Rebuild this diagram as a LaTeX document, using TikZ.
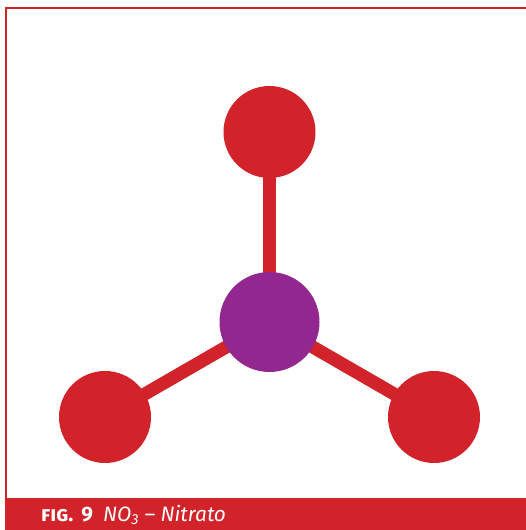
\documentclass[tikz,border=0pt]{standalone}
\usepackage{fontspec}
\setmainfont{Fira Sans}
\usetikzlibrary{backgrounds}
\definecolor{oxred}{RGB}{210,35,42}
\definecolor{nitropurple}{RGB}{146,39,143}
\tikzset{
  atom/.style={circle,fill=oxred,minimum size=92pt,inner sep=0pt},
  bond/.style={draw=oxred,line width=13pt},
}

\begin{document}
\begin{tikzpicture}[x=1pt,y=1pt]
  \useasboundingbox (0,0) rectangle (526,530);
  \draw[oxred,line width=2pt] (6,32) -- (6,521.5) -- (526,521.5);
  \fill[oxred] (5,0) rectangle (526,32);
  \node[anchor=base west,text=white,font=\fontsize{20.8}{24}\selectfont,inner sep=0pt]
    (caption) at (41,9) {{\bfseries{\addfontfeature{Letters=SmallCaps}fig.}\hspace{8pt}9}\hspace{10pt}\textit{NO\textsubscript{3} – Nitrato}};
  \node[atom] (otop) at (269.5,398) {};
  \node[atom] (oleft) at (105,113) {};
  \node[atom] (oright) at (434,113) {};
  \node[atom,fill=nitropurple,minimum size=100pt] (nitro) at (269.5,208) {};
  \begin{pgfonlayer}{background}
    \draw[bond] (nitro.center) -- (otop.center);
    \draw[bond] (nitro.center) -- (oleft.center);
    \draw[bond] (nitro.center) -- (oright.center);
  \end{pgfonlayer}
\end{tikzpicture}
\end{document}
